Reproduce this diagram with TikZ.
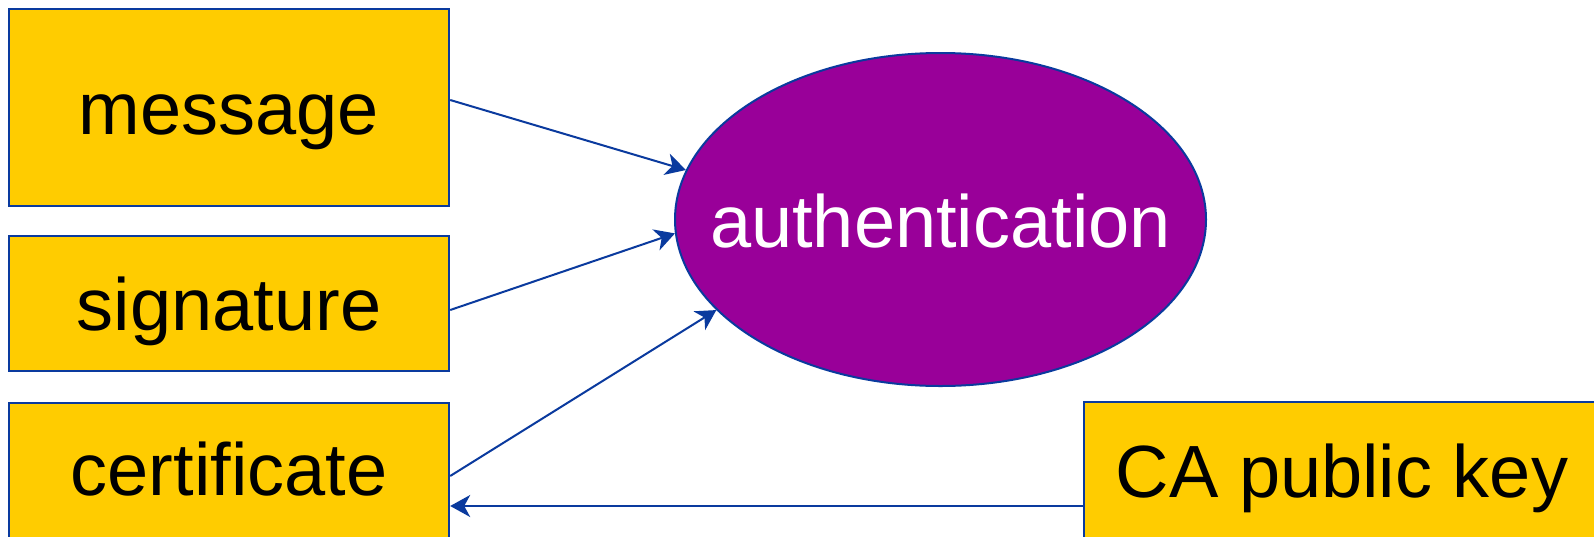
\documentclass[tikz,border=0pt]{standalone}
\usepackage{fontspec}
\setmainfont{Liberation Sans}
\usetikzlibrary{arrows.meta,shapes.geometric}
\definecolor{boxfill}{HTML}{FFCC00}
\definecolor{edgeblue}{HTML}{0A3A9E}
\definecolor{authfill}{HTML}{990099}
\tikzset{
  inputbox/.style={draw=edgeblue, line width=1.2pt, fill=boxfill, rectangle,
    inner sep=0pt, text depth=0pt, font=\fontsize{37}{44}\selectfont, text=black},
  authnode/.style={draw=edgeblue, line width=1pt, fill=authfill, ellipse,
    inner sep=0pt, minimum width=265.5pt, minimum height=166.5pt,
    text depth=0pt, font=\fontsize{37}{44}\selectfont, text=white},
  arr/.style={draw=edgeblue, line width=1pt,
    -{Stealth[length=10pt,width=11pt,inset=3pt]}}
}
\begin{document}
\begin{tikzpicture}[x=0.5pt,y=-0.5pt]
  \useasboundingbox[fill=white] (0,0) rectangle (1594,536);

  % input boxes on the left
  \node[inputbox, minimum width=220pt, minimum height=98.5pt, text height=26.5pt] (msg) at (229,107.5) {message};
  \node[inputbox, minimum width=220pt, minimum height=67.5pt, text height=26.5pt] (sig) at (229,303.5) {signature};
  \node[inputbox, minimum width=220pt, minimum height=71pt, text height=21pt] (cert) at (229,474) {certificate};

  % CA key box, running off the lower right corner
  \node[inputbox, minimum width=258pt, minimum height=71.5pt, text height=23.5pt] (ca) at (1342,473.5) {CA public key};

  % authentication step
  \node[authnode, text height=27.5pt] (auth) at (940.5,219.5) {\makebox[0pt]{authentication}};

  % connectors
  \draw[arr] ([yshift=3.75pt]msg.east) -- (auth.169.6);
  \draw[arr] ([yshift=-3.25pt]sig.east) -- (auth.183.8);
  \draw[arr] ([yshift=-1pt]cert.east) -- (auth.202.8);
  \draw[arr] ([yshift=-16.25pt]ca.west) coordinate (caout) -- (caout -| cert.east);
\end{tikzpicture}
\end{document}
